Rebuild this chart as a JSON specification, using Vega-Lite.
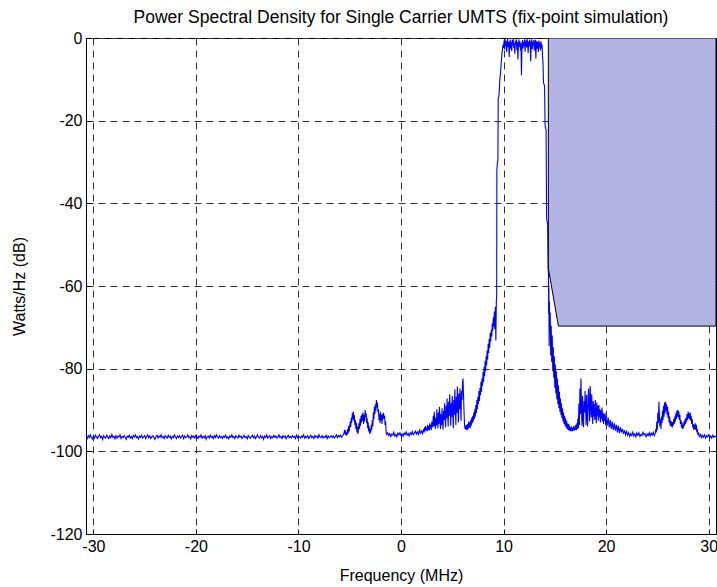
{
"$schema": "https://vega.github.io/schema/vega-lite/v6.json",
"width": 630, "height": 496,
"autosize": {"type": "none"},
"padding": {"left": 86, "top": 38, "right": 1, "bottom": 53},
"background": "white",
"config": {
  "font": "Liberation Sans",
  "view": {"stroke": "black", "strokeWidth": 1},
  "axis": {"domainColor": "black", "gridColor": "#333333", "gridDash": [7, 5], "gridWidth": 1, "tickColor": "black", "labelColor": "black", "titleColor": "black", "labelFontSize": 16, "titleFontSize": 16, "titleFontWeight": "normal", "labelFont": "Liberation Sans", "titleFont": "Liberation Sans"}
},
"title": {"text": "Power Spectral Density for Single Carrier UMTS (fix-point simulation)", "fontSize": 17.5, "fontWeight": "normal", "font": "Liberation Sans", "color": "black", "anchor": "middle", "offset": 4},
"datasets": {
"psd": [
{"f":-30.72,"p":-96.6},
{"f":-30.7,"p":-96.4},{"f":-30.6,"p":-96.9},{"f":-30.5,"p":-96.2},{"f":-30.4,"p":-96.7},{"f":-30.3,"p":-96.0},{"f":-30.2,"p":-96.6},{"f":-30.1,"p":-97.0},{"f":-30.0,"p":-96.3},{"f":-29.9,"p":-96.8},{"f":-29.8,"p":-96.1},
{"f":-29.7,"p":-96.5},{"f":-29.6,"p":-96.9},{"f":-29.5,"p":-96.3},{"f":-29.4,"p":-96.0},{"f":-29.3,"p":-96.7},{"f":-29.2,"p":-96.4},{"f":-29.1,"p":-97.1},{"f":-29.0,"p":-96.2},{"f":-28.9,"p":-96.6},{"f":-28.8,"p":-96.8},
{"f":-28.7,"p":-96.1},{"f":-28.6,"p":-96.5},{"f":-28.5,"p":-96.9},{"f":-28.4,"p":-96.3},{"f":-28.3,"p":-96.7},{"f":-28.2,"p":-95.9},{"f":-28.1,"p":-96.6},{"f":-28.0,"p":-96.4},{"f":-27.9,"p":-97.0},{"f":-27.8,"p":-96.2},
{"f":-27.7,"p":-96.8},{"f":-27.6,"p":-96.3},{"f":-27.5,"p":-96.5},{"f":-27.4,"p":-96.0},{"f":-27.3,"p":-96.9},{"f":-27.2,"p":-96.4},{"f":-27.1,"p":-96.7},{"f":-27.0,"p":-96.2},{"f":-26.9,"p":-96.6},{"f":-26.8,"p":-97.1},
{"f":-26.7,"p":-96.3},{"f":-26.6,"p":-96.6},{"f":-26.5,"p":-96.1},{"f":-26.4,"p":-96.8},{"f":-26.3,"p":-96.4},{"f":-26.2,"p":-96.9},{"f":-26.1,"p":-96.2},{"f":-26.0,"p":-96.5},{"f":-25.9,"p":-96.0},{"f":-25.8,"p":-96.7},
{"f":-25.7,"p":-96.4},{"f":-25.6,"p":-97.0},{"f":-25.5,"p":-96.3},{"f":-25.4,"p":-96.6},{"f":-25.3,"p":-96.1},{"f":-25.2,"p":-96.8},{"f":-25.1,"p":-96.5},{"f":-25.0,"p":-96.2},{"f":-24.9,"p":-96.9},{"f":-24.8,"p":-96.4},
{"f":-24.7,"p":-96.0},{"f":-24.6,"p":-96.7},{"f":-24.5,"p":-96.3},{"f":-24.4,"p":-96.9},{"f":-24.3,"p":-96.5},{"f":-24.2,"p":-96.2},{"f":-24.1,"p":-96.6},{"f":-24.0,"p":-97.1},{"f":-23.9,"p":-96.4},{"f":-23.8,"p":-96.1},
{"f":-23.7,"p":-96.8},{"f":-23.6,"p":-96.3},{"f":-23.5,"p":-96.6},{"f":-23.4,"p":-96.0},{"f":-23.3,"p":-96.7},{"f":-23.2,"p":-96.4},{"f":-23.1,"p":-96.9},{"f":-23.0,"p":-96.2},{"f":-22.9,"p":-96.5},{"f":-22.8,"p":-96.8},
{"f":-22.7,"p":-96.1},{"f":-22.6,"p":-96.6},{"f":-22.5,"p":-96.3},{"f":-22.4,"p":-97.0},{"f":-22.3,"p":-96.4},{"f":-22.2,"p":-96.7},{"f":-22.1,"p":-96.0},{"f":-22.0,"p":-96.5},{"f":-21.9,"p":-96.9},{"f":-21.8,"p":-96.3},
{"f":-21.7,"p":-96.6},{"f":-21.6,"p":-96.2},{"f":-21.5,"p":-96.8},{"f":-21.4,"p":-96.4},{"f":-21.3,"p":-96.1},{"f":-21.2,"p":-96.9},{"f":-21.1,"p":-96.3},{"f":-21.0,"p":-96.7},{"f":-20.9,"p":-96.5},{"f":-20.8,"p":-96.0},
{"f":-20.7,"p":-96.7},{"f":-20.6,"p":-96.4},{"f":-20.5,"p":-97.0},{"f":-20.4,"p":-96.2},{"f":-20.3,"p":-96.6},{"f":-20.2,"p":-96.3},{"f":-20.1,"p":-96.8},{"f":-20.0,"p":-96.1},{"f":-19.9,"p":-96.5},{"f":-19.8,"p":-96.9},
{"f":-19.7,"p":-96.3},{"f":-19.6,"p":-96.6},{"f":-19.5,"p":-96.0},{"f":-19.4,"p":-96.8},{"f":-19.3,"p":-96.4},{"f":-19.2,"p":-96.7},{"f":-19.1,"p":-96.2},{"f":-19.0,"p":-97.1},{"f":-18.9,"p":-96.5},{"f":-18.8,"p":-96.3},
{"f":-18.7,"p":-96.8},{"f":-18.6,"p":-96.1},{"f":-18.5,"p":-96.6},{"f":-18.4,"p":-96.4},{"f":-18.3,"p":-96.9},{"f":-18.2,"p":-96.2},{"f":-18.1,"p":-96.7},{"f":-18.0,"p":-96.0},{"f":-17.9,"p":-96.5},{"f":-17.8,"p":-96.8},
{"f":-17.7,"p":-96.2},{"f":-17.6,"p":-96.7},{"f":-17.5,"p":-96.4},{"f":-17.4,"p":-96.9},{"f":-17.3,"p":-96.3},{"f":-17.2,"p":-96.6},{"f":-17.1,"p":-96.1},{"f":-17.0,"p":-96.8},{"f":-16.9,"p":-96.5},{"f":-16.8,"p":-97.0},
{"f":-16.7,"p":-96.3},{"f":-16.6,"p":-96.6},{"f":-16.5,"p":-96.0},{"f":-16.4,"p":-96.7},{"f":-16.3,"p":-96.4},{"f":-16.2,"p":-96.9},{"f":-16.1,"p":-96.2},{"f":-16.0,"p":-96.5},{"f":-15.9,"p":-96.8},{"f":-15.8,"p":-96.1},
{"f":-15.7,"p":-96.6},{"f":-15.6,"p":-96.3},{"f":-15.5,"p":-96.9},{"f":-15.4,"p":-96.5},{"f":-15.3,"p":-96.1},{"f":-15.2,"p":-96.7},{"f":-15.1,"p":-96.4},{"f":-15.0,"p":-97.0},{"f":-14.9,"p":-96.2},{"f":-14.8,"p":-96.6},
{"f":-14.7,"p":-96.8},{"f":-14.6,"p":-96.4},{"f":-14.5,"p":-96.1},{"f":-14.4,"p":-96.7},{"f":-14.3,"p":-96.3},{"f":-14.2,"p":-96.9},{"f":-14.1,"p":-96.5},{"f":-14.0,"p":-96.0},{"f":-13.9,"p":-96.6},{"f":-13.8,"p":-96.8},
{"f":-13.7,"p":-96.2},{"f":-13.6,"p":-96.7},{"f":-13.5,"p":-96.4},{"f":-13.4,"p":-97.1},{"f":-13.3,"p":-96.3},{"f":-13.2,"p":-96.6},{"f":-13.1,"p":-96.0},{"f":-13.0,"p":-96.8},{"f":-12.9,"p":-96.5},{"f":-12.8,"p":-96.2},
{"f":-12.7,"p":-96.9},{"f":-12.6,"p":-96.4},{"f":-12.5,"p":-96.7},{"f":-12.4,"p":-96.1},{"f":-12.3,"p":-96.6},{"f":-12.2,"p":-96.3},{"f":-12.1,"p":-96.8},{"f":-12.0,"p":-96.5},{"f":-11.9,"p":-96.0},{"f":-11.8,"p":-96.7},
{"f":-11.7,"p":-96.4},{"f":-11.6,"p":-96.9},{"f":-11.5,"p":-96.2},{"f":-11.4,"p":-96.6},{"f":-11.3,"p":-96.3},{"f":-11.2,"p":-97.0},{"f":-11.1,"p":-96.5},{"f":-11.0,"p":-96.1},{"f":-10.9,"p":-96.7},{"f":-10.8,"p":-96.4},
{"f":-10.7,"p":-96.8},{"f":-10.6,"p":-96.2},{"f":-10.5,"p":-96.6},{"f":-10.4,"p":-96.4},{"f":-10.3,"p":-96.9},{"f":-10.2,"p":-96.1},{"f":-10.1,"p":-96.7},{"f":-10.0,"p":-96.3},{"f":-9.9,"p":-96.5},{"f":-9.8,"p":-96.8},
{"f":-9.7,"p":-96.3},{"f":-9.6,"p":-96.6},{"f":-9.5,"p":-96.0},{"f":-9.4,"p":-96.8},{"f":-9.3,"p":-96.4},{"f":-9.2,"p":-96.7},{"f":-9.1,"p":-96.2},{"f":-9.0,"p":-96.9},{"f":-8.9,"p":-96.5},{"f":-8.8,"p":-96.1},
{"f":-8.7,"p":-96.7},{"f":-8.6,"p":-96.4},{"f":-8.5,"p":-96.9},{"f":-8.4,"p":-96.2},{"f":-8.3,"p":-96.6},{"f":-8.2,"p":-96.3},{"f":-8.1,"p":-96.8},{"f":-8.0,"p":-96.0},{"f":-7.9,"p":-96.5},{"f":-7.8,"p":-96.7},
{"f":-7.7,"p":-96.2},{"f":-7.6,"p":-96.8},{"f":-7.5,"p":-96.4},{"f":-7.4,"p":-96.6},{"f":-7.3,"p":-96.1},{"f":-7.2,"p":-96.9},{"f":-7.1,"p":-96.3},{"f":-7.0,"p":-96.7},{"f":-6.9,"p":-96.5},{"f":-6.8,"p":-96.2},
{"f":-6.7,"p":-96.6},{"f":-6.6,"p":-96.3},{"f":-6.5,"p":-96.8},{"f":-6.4,"p":-96.4},{"f":-6.3,"p":-96.0},{"f":-6.2,"p":-96.7},{"f":-6.1,"p":-96.2},{"f":-6.0,"p":-96.5},{"f":-5.9,"p":-96.1},{"f":-5.8,"p":-96.6},
{"f":-5.7,"p":-96.3},{"f":-5.6,"p":-95.8},
{"f":-5.55,"p":-95.6},{"f":-5.5,"p":-94.8},{"f":-5.45,"p":-95.9},{"f":-5.4,"p":-95.0},{"f":-5.35,"p":-96.2},{"f":-5.3,"p":-95.4},{"f":-5.25,"p":-96.0},{"f":-5.2,"p":-94.6},{"f":-5.15,"p":-95.7},{"f":-5.1,"p":-93.8},
{"f":-5.05,"p":-95.2},{"f":-5.0,"p":-94.0},{"f":-4.95,"p":-92.8},{"f":-4.9,"p":-94.1},{"f":-4.85,"p":-91.9},{"f":-4.8,"p":-93.0},{"f":-4.75,"p":-90.8},{"f":-4.7,"p":-92.2},{"f":-4.65,"p":-90.4},{"f":-4.6,"p":-92.6},
{"f":-4.55,"p":-91.2},{"f":-4.5,"p":-93.7},{"f":-4.45,"p":-92.4},{"f":-4.4,"p":-94.6},{"f":-4.35,"p":-93.1},{"f":-4.3,"p":-95.4},{"f":-4.25,"p":-94.0},{"f":-4.2,"p":-95.8},{"f":-4.15,"p":-94.5},{"f":-4.1,"p":-93.2},
{"f":-4.05,"p":-94.6},{"f":-4.0,"p":-92.1},{"f":-3.95,"p":-93.8},{"f":-3.9,"p":-91.4},{"f":-3.85,"p":-93.0},{"f":-3.8,"p":-91.0},{"f":-3.75,"p":-92.6},{"f":-3.7,"p":-90.6},{"f":-3.65,"p":-93.4},{"f":-3.6,"p":-91.2},
{"f":-3.55,"p":-92.8},{"f":-3.5,"p":-90.0},{"f":-3.45,"p":-91.8},{"f":-3.4,"p":-90.8},{"f":-3.35,"p":-93.2},{"f":-3.3,"p":-92.0},{"f":-3.25,"p":-94.4},{"f":-3.2,"p":-93.0},{"f":-3.15,"p":-95.2},{"f":-3.1,"p":-94.0},
{"f":-3.05,"p":-95.8},{"f":-3.0,"p":-94.6},{"f":-2.95,"p":-95.5},{"f":-2.9,"p":-93.6},{"f":-2.85,"p":-94.8},{"f":-2.8,"p":-92.4},{"f":-2.75,"p":-93.9},{"f":-2.7,"p":-90.6},{"f":-2.65,"p":-92.3},{"f":-2.6,"p":-89.2},
{"f":-2.55,"p":-91.0},{"f":-2.5,"p":-88.6},{"f":-2.45,"p":-90.2},{"f":-2.4,"p":-87.6},{"f":-2.35,"p":-89.4},{"f":-2.3,"p":-88.2},{"f":-2.25,"p":-90.6},{"f":-2.2,"p":-89.8},{"f":-2.15,"p":-92.4},{"f":-2.1,"p":-91.0},
{"f":-2.05,"p":-93.2},{"f":-2.0,"p":-90.4},{"f":-1.95,"p":-92.6},{"f":-1.9,"p":-91.2},{"f":-1.85,"p":-93.4},{"f":-1.8,"p":-91.0},{"f":-1.75,"p":-92.2},{"f":-1.7,"p":-90.7},{"f":-1.65,"p":-92.0},{"f":-1.6,"p":-91.4},
{"f":-1.55,"p":-93.6},{"f":-1.5,"p":-92.8},{"f":-1.45,"p":-95.4},{"f":-1.4,"p":-95.9},
{"f":-1.3,"p":-95.5},{"f":-1.2,"p":-96.2},{"f":-1.1,"p":-95.7},{"f":-1.0,"p":-96.4},{"f":-0.9,"p":-95.8},{"f":-0.8,"p":-96.1},{"f":-0.7,"p":-95.4},{"f":-0.6,"p":-96.3},{"f":-0.5,"p":-95.9},{"f":-0.4,"p":-96.5},
{"f":-0.3,"p":-95.6},{"f":-0.2,"p":-96.0},{"f":-0.1,"p":-95.5},{"f":0.0,"p":-96.2},{"f":0.1,"p":-95.8},{"f":0.2,"p":-96.4},{"f":0.3,"p":-95.6},{"f":0.4,"p":-96.0},{"f":0.5,"p":-95.3},{"f":0.6,"p":-96.1},
{"f":0.7,"p":-95.7},{"f":0.8,"p":-96.3},{"f":0.9,"p":-95.5},{"f":1.0,"p":-95.9},{"f":1.1,"p":-95.2},{"f":1.2,"p":-96.0},{"f":1.3,"p":-95.6},{"f":1.4,"p":-95.1},{"f":1.5,"p":-95.8},{"f":1.6,"p":-95.3},
{"f":1.7,"p":-95.9},{"f":1.8,"p":-94.9},{"f":1.9,"p":-95.6},{"f":2.0,"p":-95.0},{"f":2.1,"p":-95.7},
{"f":2.2,"p":-94.6},{"f":2.25,"p":-95.4},{"f":2.3,"p":-94.2},{"f":2.35,"p":-95.1},{"f":2.4,"p":-93.8},{"f":2.45,"p":-94.9},{"f":2.5,"p":-94.3},{"f":2.55,"p":-95.2},{"f":2.6,"p":-93.6},{"f":2.65,"p":-94.8},
{"f":2.7,"p":-93.9},{"f":2.75,"p":-95.0},{"f":2.8,"p":-93.2},{"f":2.85,"p":-94.5},{"f":2.9,"p":-93.6},{"f":2.95,"p":-94.9},{"f":3.0,"p":-92.8},{"f":3.05,"p":-94.2},{"f":3.1,"p":-93.5},{"f":3.15,"p":-91.4},
{"f":3.2,"p":-94.0},{"f":3.25,"p":-90.4},{"f":3.3,"p":-93.2},{"f":3.35,"p":-94.6},{"f":3.4,"p":-91.8},{"f":3.45,"p":-93.8},{"f":3.5,"p":-89.8},{"f":3.55,"p":-92.6},{"f":3.6,"p":-94.4},{"f":3.65,"p":-90.6},
{"f":3.7,"p":-93.4},{"f":3.75,"p":-89.2},{"f":3.8,"p":-92.0},{"f":3.85,"p":-94.6},{"f":3.9,"p":-91.0},{"f":3.95,"p":-93.6},{"f":4.0,"p":-89.6},{"f":4.05,"p":-92.8},{"f":4.1,"p":-94.8},{"f":4.15,"p":-90.2},
{"f":4.2,"p":-92.4},{"f":4.25,"p":-88.4},{"f":4.3,"p":-91.6},{"f":4.35,"p":-94.2},{"f":4.4,"p":-89.0},{"f":4.45,"p":-92.0},{"f":4.5,"p":-87.2},{"f":4.55,"p":-90.8},{"f":4.6,"p":-94.0},{"f":4.65,"p":-88.0},
{"f":4.7,"p":-91.4},{"f":4.75,"p":-86.2},{"f":4.8,"p":-89.8},{"f":4.85,"p":-93.8},{"f":4.9,"p":-88.4},{"f":4.95,"p":-91.6},{"f":5.0,"p":-86.6},{"f":5.05,"p":-90.4},{"f":5.1,"p":-94.4},{"f":5.15,"p":-87.6},
{"f":5.2,"p":-91.2},{"f":5.25,"p":-85.0},{"f":5.3,"p":-89.4},{"f":5.35,"p":-93.6},{"f":5.4,"p":-86.8},{"f":5.45,"p":-90.8},{"f":5.5,"p":-84.3},{"f":5.55,"p":-88.6},{"f":5.6,"p":-93.0},{"f":5.65,"p":-86.0},
{"f":5.7,"p":-89.8},{"f":5.75,"p":-84.8},{"f":5.8,"p":-88.2},{"f":5.85,"p":-92.6},{"f":5.9,"p":-85.4},{"f":5.95,"p":-87.6},{"f":6.0,"p":-83.4},{"f":6.05,"p":-82.4},{"f":6.1,"p":-86.8},{"f":6.15,"p":-90.6},
{"f":6.2,"p":-93.8},{"f":6.25,"p":-94.6},{"f":6.3,"p":-93.8},{"f":6.35,"p":-94.8},{"f":6.4,"p":-93.6},{"f":6.45,"p":-94.9},{"f":6.5,"p":-93.4},{"f":6.55,"p":-94.6},{"f":6.6,"p":-92.8},{"f":6.65,"p":-94.2},
{"f":6.7,"p":-93.0},{"f":6.75,"p":-94.4},{"f":6.8,"p":-92.4},{"f":6.85,"p":-93.8},{"f":6.9,"p":-91.8},{"f":6.95,"p":-93.2},{"f":7.0,"p":-91.4},{"f":7.05,"p":-92.8},{"f":7.1,"p":-90.6},{"f":7.15,"p":-92.2},
{"f":7.2,"p":-89.8},{"f":7.25,"p":-91.6},{"f":7.3,"p":-88.8},{"f":7.35,"p":-90.8},{"f":7.4,"p":-87.6},{"f":7.45,"p":-89.8},{"f":7.5,"p":-86.8},{"f":7.55,"p":-88.6},{"f":7.6,"p":-85.4},{"f":7.65,"p":-87.8},
{"f":7.7,"p":-84.6},{"f":7.75,"p":-86.4},{"f":7.8,"p":-83.2},{"f":7.85,"p":-85.6},{"f":7.9,"p":-82.4},{"f":7.95,"p":-84.2},{"f":8.0,"p":-80.8},{"f":8.05,"p":-83.2},{"f":8.1,"p":-79.6},{"f":8.15,"p":-81.8},
{"f":8.2,"p":-78.2},{"f":8.25,"p":-80.6},{"f":8.3,"p":-77.0},{"f":8.35,"p":-79.2},{"f":8.4,"p":-75.6},{"f":8.45,"p":-77.8},{"f":8.5,"p":-74.0},{"f":8.55,"p":-76.2},{"f":8.6,"p":-72.8},{"f":8.65,"p":-75.0},
{"f":8.7,"p":-71.4},{"f":8.75,"p":-73.4},{"f":8.8,"p":-70.6},{"f":8.85,"p":-72.2},{"f":8.9,"p":-69.0},{"f":8.95,"p":-70.8},{"f":9.0,"p":-67.6},{"f":9.05,"p":-69.8},{"f":9.1,"p":-66.2},{"f":9.15,"p":-70.4},
{"f":9.2,"p":-65.0},{"f":9.25,"p":-73.2},{"f":9.3,"p":-63.4},{"f":9.33,"p":-62.6},{"f":9.35,"p":-32.0},{"f":9.4,"p":-30.2},{"f":9.45,"p":-29.6},{"f":9.48,"p":-14.6},{"f":9.55,"p":-14.0},{"f":9.6,"p":-12.0},
{"f":9.65,"p":-9.6},{"f":9.7,"p":-9.0},{"f":9.75,"p":-6.8},{"f":9.8,"p":-5.2},{"f":9.85,"p":-3.6},{"f":9.9,"p":-2.8},{"f":9.95,"p":-1.6},{"f":10.0,"p":-2.4},
{"f":10.05,"p":-0.6},{"f":10.1,"p":-2.8},{"f":10.15,"p":-0.3},{"f":10.2,"p":-1.9},{"f":10.25,"p":-0.8},{"f":10.3,"p":-3.4},{"f":10.35,"p":-1.1},{"f":10.4,"p":-0.2},{"f":10.45,"p":-2.2},{"f":10.5,"p":-0.9},
{"f":10.55,"p":-4.6},{"f":10.6,"p":-1.4},{"f":10.65,"p":-0.4},{"f":10.7,"p":-2.6},{"f":10.75,"p":-1.0},{"f":10.8,"p":-3.2},{"f":10.85,"p":-0.5},{"f":10.9,"p":-1.8},{"f":10.95,"p":-0.2},{"f":11.0,"p":-2.4},
{"f":11.05,"p":-1.2},{"f":11.1,"p":-3.8},{"f":11.15,"p":-0.7},{"f":11.2,"p":-1.6},{"f":11.25,"p":-0.3},{"f":11.3,"p":-2.9},{"f":11.35,"p":-1.0},{"f":11.4,"p":-5.2},{"f":11.45,"p":-1.5},{"f":11.5,"p":-0.4},
{"f":11.55,"p":-2.1},{"f":11.6,"p":-0.8},{"f":11.65,"p":-3.0},{"f":11.7,"p":-1.3},{"f":11.75,"p":-9.0},{"f":11.8,"p":-1.7},{"f":11.85,"p":-0.5},{"f":11.9,"p":-2.5},{"f":11.95,"p":-0.9},{"f":12.0,"p":-1.9},
{"f":12.05,"p":-0.3},{"f":12.1,"p":-3.3},{"f":12.15,"p":-1.1},{"f":12.2,"p":-0.6},{"f":12.25,"p":-2.3},{"f":12.3,"p":-0.2},{"f":12.35,"p":-1.4},{"f":12.4,"p":-3.6},{"f":12.45,"p":-0.8},{"f":12.5,"p":-2.0},
{"f":12.55,"p":-0.4},{"f":12.6,"p":-1.6},{"f":12.65,"p":-5.6},{"f":12.7,"p":-1.0},{"f":12.75,"p":-0.3},{"f":12.8,"p":-2.7},{"f":12.85,"p":-0.9},{"f":12.9,"p":-1.8},{"f":12.95,"p":-0.5},{"f":13.0,"p":-3.1},
{"f":13.05,"p":-1.2},{"f":13.1,"p":-0.4},{"f":13.15,"p":-5.0},{"f":13.2,"p":-1.5},{"f":13.25,"p":-0.7},{"f":13.3,"p":-2.6},{"f":13.35,"p":-1.0},{"f":13.4,"p":-3.4},{"f":13.45,"p":-0.6},{"f":13.5,"p":-2.2},
{"f":13.55,"p":-1.1},{"f":13.6,"p":-3.0},{"f":13.65,"p":-0.8},{"f":13.7,"p":-2.5},{"f":13.75,"p":-1.6},{"f":13.8,"p":-4.2},{"f":13.85,"p":-6.0},{"f":13.9,"p":-10.8},{"f":13.95,"p":-11.2},{"f":14.0,"p":-11.6},
{"f":14.05,"p":-21.2},{"f":14.1,"p":-21.8},{"f":14.15,"p":-22.2},{"f":14.2,"p":-43.6},{"f":14.25,"p":-44.4},{"f":14.3,"p":-45.0},{"f":14.35,"p":-55.8},{"f":14.38,"p":-57.0},{"f":14.4,"p":-66.8},{"f":14.42,"p":-60.4},
{"f":14.45,"p":-74.6},{"f":14.48,"p":-63.8},{"f":14.5,"p":-70.2},{"f":14.55,"p":-66.4},{"f":14.6,"p":-76.8},{"f":14.65,"p":-69.6},{"f":14.7,"p":-78.4},{"f":14.75,"p":-72.0},{"f":14.8,"p":-80.6},{"f":14.85,"p":-74.8},
{"f":14.9,"p":-82.2},{"f":14.95,"p":-77.0},{"f":15.0,"p":-84.6},{"f":15.05,"p":-79.0},{"f":15.1,"p":-86.0},{"f":15.15,"p":-80.6},{"f":15.2,"p":-87.4},{"f":15.25,"p":-82.4},{"f":15.3,"p":-88.6},{"f":15.35,"p":-84.0},
{"f":15.4,"p":-89.6},{"f":15.45,"p":-85.6},{"f":15.5,"p":-90.4},{"f":15.55,"p":-87.2},{"f":15.6,"p":-91.2},{"f":15.65,"p":-88.4},{"f":15.7,"p":-92.0},{"f":15.75,"p":-89.6},{"f":15.8,"p":-92.8},{"f":15.85,"p":-90.6},
{"f":15.9,"p":-93.4},{"f":15.95,"p":-91.4},{"f":16.0,"p":-93.8},{"f":16.05,"p":-92.0},{"f":16.1,"p":-94.2},{"f":16.15,"p":-92.6},{"f":16.2,"p":-94.6},{"f":16.25,"p":-93.2},{"f":16.3,"p":-94.8},{"f":16.35,"p":-93.4},
{"f":16.4,"p":-95.0},{"f":16.45,"p":-93.8},{"f":16.5,"p":-95.1},{"f":16.55,"p":-94.2},{"f":16.6,"p":-95.0},{"f":16.65,"p":-94.0},{"f":16.7,"p":-95.2},{"f":16.75,"p":-94.4},{"f":16.8,"p":-94.9},{"f":16.85,"p":-93.8},
{"f":16.9,"p":-95.0},{"f":16.95,"p":-94.2},{"f":17.0,"p":-94.8},{"f":17.05,"p":-93.6},{"f":17.1,"p":-94.9},{"f":17.15,"p":-93.2},{"f":17.2,"p":-94.6},{"f":17.25,"p":-92.0},{"f":17.3,"p":-94.4},{"f":17.35,"p":-88.4},
{"f":17.4,"p":-93.6},{"f":17.45,"p":-84.8},{"f":17.5,"p":-91.0},{"f":17.55,"p":-82.4},{"f":17.6,"p":-89.4},{"f":17.65,"p":-93.8},{"f":17.7,"p":-86.6},{"f":17.75,"p":-91.8},{"f":17.8,"p":-94.2},{"f":17.85,"p":-87.8},
{"f":17.9,"p":-90.6},{"f":17.95,"p":-85.4},{"f":18.0,"p":-89.2},{"f":18.05,"p":-93.6},{"f":18.1,"p":-86.4},{"f":18.15,"p":-91.4},{"f":18.2,"p":-94.0},{"f":18.25,"p":-87.0},{"f":18.3,"p":-84.8},{"f":18.35,"p":-89.6},
{"f":18.4,"p":-92.8},{"f":18.45,"p":-84.2},{"f":18.5,"p":-88.6},{"f":18.55,"p":-91.8},{"f":18.6,"p":-86.2},{"f":18.65,"p":-90.4},{"f":18.7,"p":-93.4},{"f":18.75,"p":-87.8},{"f":18.8,"p":-91.6},{"f":18.85,"p":-88.6},
{"f":18.9,"p":-92.4},{"f":18.95,"p":-87.6},{"f":19.0,"p":-90.8},{"f":19.05,"p":-93.2},{"f":19.1,"p":-88.2},{"f":19.15,"p":-91.4},{"f":19.2,"p":-89.0},{"f":19.25,"p":-92.6},{"f":19.3,"p":-88.8},{"f":19.35,"p":-91.8},
{"f":19.4,"p":-89.8},{"f":19.45,"p":-93.0},{"f":19.5,"p":-90.0},{"f":19.55,"p":-92.2},{"f":19.6,"p":-89.4},{"f":19.65,"p":-92.8},{"f":19.7,"p":-90.6},{"f":19.75,"p":-93.4},{"f":19.8,"p":-91.0},{"f":19.85,"p":-92.6},
{"f":19.9,"p":-90.8},{"f":19.95,"p":-93.6},{"f":20.0,"p":-91.6},
{"f":20.1,"p":-93.8},{"f":20.2,"p":-91.8},{"f":20.3,"p":-94.2},{"f":20.4,"p":-92.4},{"f":20.5,"p":-94.6},{"f":20.6,"p":-92.8},{"f":20.7,"p":-94.8},{"f":20.8,"p":-93.2},{"f":20.9,"p":-95.0},{"f":21.0,"p":-93.6},
{"f":21.1,"p":-95.4},{"f":21.2,"p":-93.8},{"f":21.3,"p":-95.6},{"f":21.4,"p":-94.2},{"f":21.5,"p":-95.4},{"f":21.6,"p":-94.6},{"f":21.7,"p":-95.8},{"f":21.8,"p":-94.9},{"f":21.9,"p":-96.0},{"f":22.0,"p":-95.2},
{"f":22.1,"p":-96.1},{"f":22.2,"p":-95.5},{"f":22.3,"p":-96.4},{"f":22.4,"p":-95.7},{"f":22.5,"p":-96.2},{"f":22.6,"p":-95.4},{"f":22.7,"p":-96.3},{"f":22.8,"p":-95.8},{"f":22.9,"p":-96.5},{"f":23.0,"p":-95.6},
{"f":23.1,"p":-96.1},{"f":23.2,"p":-95.5},{"f":23.3,"p":-96.4},{"f":23.4,"p":-95.9},{"f":23.5,"p":-96.2},{"f":23.6,"p":-95.4},{"f":23.7,"p":-96.0},{"f":23.8,"p":-95.7},{"f":23.9,"p":-96.5},{"f":24.0,"p":-95.8},
{"f":24.1,"p":-96.2},{"f":24.2,"p":-95.5},{"f":24.3,"p":-96.3},{"f":24.4,"p":-95.6},{"f":24.5,"p":-96.1},{"f":24.6,"p":-95.4},{"f":24.7,"p":-96.2},{"f":24.8,"p":-95.6},
{"f":24.85,"p":-94.6},{"f":24.9,"p":-95.4},{"f":24.95,"p":-92.8},{"f":25.0,"p":-94.8},{"f":25.05,"p":-90.6},{"f":25.1,"p":-93.2},{"f":25.15,"p":-88.0},{"f":25.2,"p":-91.4},{"f":25.25,"p":-94.0},{"f":25.3,"p":-92.2},
{"f":25.35,"p":-94.6},{"f":25.4,"p":-91.6},{"f":25.45,"p":-93.2},{"f":25.5,"p":-90.2},{"f":25.55,"p":-92.4},{"f":25.6,"p":-89.0},{"f":25.65,"p":-91.6},{"f":25.7,"p":-88.2},{"f":25.75,"p":-90.8},{"f":25.8,"p":-88.0},
{"f":25.85,"p":-90.2},{"f":25.9,"p":-88.6},{"f":25.95,"p":-91.2},{"f":26.0,"p":-89.2},{"f":26.05,"p":-92.0},{"f":26.1,"p":-90.4},{"f":26.15,"p":-93.0},{"f":26.2,"p":-91.6},{"f":26.25,"p":-93.8},{"f":26.3,"p":-92.6},
{"f":26.35,"p":-94.0},{"f":26.4,"p":-92.8},{"f":26.45,"p":-94.2},{"f":26.5,"p":-93.0},{"f":26.55,"p":-93.8},{"f":26.6,"p":-92.2},{"f":26.65,"p":-93.4},{"f":26.7,"p":-91.6},{"f":26.75,"p":-92.8},{"f":26.8,"p":-90.8},
{"f":26.85,"p":-92.2},{"f":26.9,"p":-90.2},{"f":26.95,"p":-91.6},{"f":27.0,"p":-90.0},{"f":27.05,"p":-91.8},{"f":27.1,"p":-90.4},{"f":27.15,"p":-92.4},{"f":27.2,"p":-91.2},{"f":27.25,"p":-93.4},{"f":27.3,"p":-92.4},
{"f":27.35,"p":-94.2},{"f":27.4,"p":-93.0},{"f":27.45,"p":-94.6},{"f":27.5,"p":-93.6},{"f":27.55,"p":-94.4},{"f":27.6,"p":-92.8},{"f":27.65,"p":-93.8},{"f":27.7,"p":-92.2},{"f":27.75,"p":-93.4},{"f":27.8,"p":-91.8},
{"f":27.85,"p":-92.8},{"f":27.9,"p":-91.0},{"f":27.95,"p":-92.4},{"f":28.0,"p":-90.4},{"f":28.05,"p":-92.0},{"f":28.1,"p":-90.8},{"f":28.15,"p":-92.2},{"f":28.2,"p":-90.6},{"f":28.25,"p":-92.6},{"f":28.3,"p":-91.4},
{"f":28.35,"p":-93.4},{"f":28.4,"p":-92.2},{"f":28.45,"p":-94.2},{"f":28.5,"p":-93.4},{"f":28.55,"p":-94.8},{"f":28.6,"p":-93.6},{"f":28.65,"p":-94.6},{"f":28.7,"p":-93.2},{"f":28.75,"p":-94.8},{"f":28.8,"p":-93.6},
{"f":28.85,"p":-95.4},{"f":28.9,"p":-94.6},{"f":28.95,"p":-96.0},{"f":29.0,"p":-95.4},
{"f":29.1,"p":-96.4},{"f":29.2,"p":-95.9},{"f":29.3,"p":-96.7},{"f":29.4,"p":-96.1},{"f":29.5,"p":-96.6},{"f":29.6,"p":-96.0},{"f":29.7,"p":-96.8},{"f":29.8,"p":-96.2},{"f":29.9,"p":-96.5},{"f":30.0,"p":-96.0},
{"f":30.1,"p":-96.7},{"f":30.2,"p":-96.3},{"f":30.3,"p":-96.8},{"f":30.4,"p":-96.1},{"f":30.5,"p":-96.6},{"f":30.6,"p":-96.3},{"f":30.72,"p":-96.5}
],
"mask": [
{"f":14.37,"top":0,"bot":-55.7},
{"f":15.35,"top":0,"bot":-69.7},
{"f":30.72,"top":0,"bot":-69.7}
]
},
"layer": [
{
  "data": {"name": "psd"},
  "mark": {"type": "line", "color": "#0000ff", "strokeWidth": 1.1, "clip": true},
  "encoding": {
    "x": {"field": "f", "type": "quantitative", "scale": {"domain": [-30.72, 30.72], "nice": false, "zero": false},
      "axis": {"title": "Frequency (MHz)", "values": [-30, -20, -10, 0, 10, 20, 30], "labelExpr": "'' + datum.value", "grid": true, "tickSize": -5, "labelPadding": 9, "titlePadding": 13, "labelFlush": false, "labelOverlap": false}},
    "y": {"field": "p", "type": "quantitative", "scale": {"domain": [-120, 0], "nice": false, "zero": false},
      "axis": {"title": "Watts/Hz (dB)", "values": [-120, -100, -80, -60, -40, -20, 0], "labelExpr": "'' + datum.value", "grid": true, "tickSize": -5, "labelPadding": 9, "titlePadding": 22, "labelFlush": false, "labelOverlap": false}}
  }
},
{
  "data": {"name": "mask"},
  "mark": {"type": "area", "color": "#b3b3e6", "fillOpacity": 1, "stroke": "black", "strokeWidth": 1, "clip": true},
  "encoding": {
    "x": {"field": "f", "type": "quantitative"},
    "y": {"field": "top", "type": "quantitative"},
    "y2": {"field": "bot"}
  }
}
]
}
